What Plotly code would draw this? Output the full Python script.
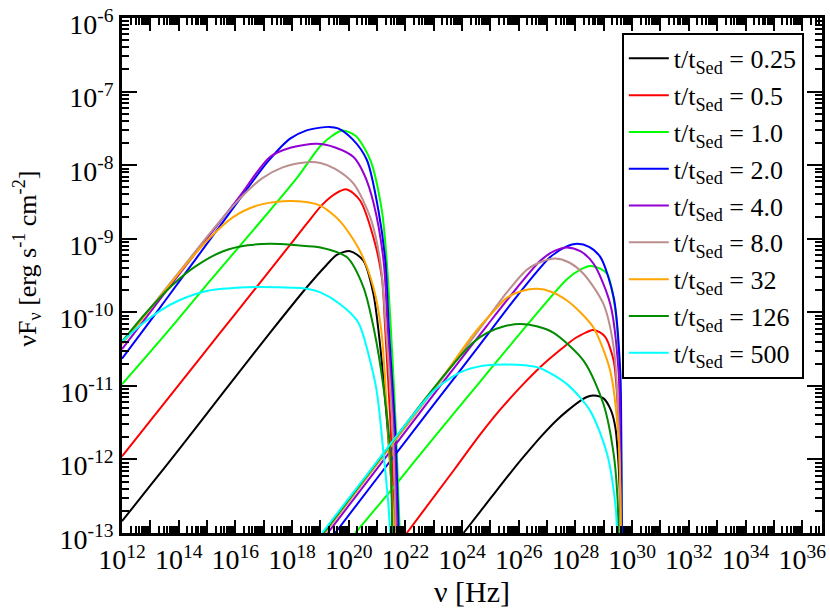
import plotly.graph_objects as go

# ---------------- data (log10 values) ----------------
labels = ["0.25", "0.5", "1.0", "2.0", "4.0", "8.0", "32", "126", "500"]
colors = ["#000000", "#ff0000", "#00ff00", "#0000ff", "#9400d3",
          "#bc8f8f", "#ffa500", "#008b00", "#00ffff"]

# synchrotron bump: log10(nu / Hz) and log10(nu F_nu)
sync_nu_025 = [12.0, 13.03, 14.06, 15.09, 16.12, 17.22, 18.52, 19.21, 19.58, 20.05, 20.52, 20.87, 21.05, 21.29, 21.50, 21.57]
sync_f_025 = [-12.84, -12.34, -11.84, -11.33, -10.82, -10.28, -9.66, -9.36, -9.22, -9.17, -9.30, -9.75, -10.25, -11.20, -12.30, -13.0]
sync_nu_05 = [12.0, 13.03, 14.06, 15.46, 16.64, 17.67, 18.49, 19.06, 19.52, 19.93, 20.40, 20.87, 21.17, 21.29, 21.47, 21.64]
sync_f_05 = [-11.96, -11.46, -10.96, -10.28, -9.71, -9.21, -8.81, -8.54, -8.39, -8.33, -8.48, -8.98, -9.53, -10.25, -11.48, -13.0]
sync_nu_1 = [12.0, 13.64, 15.09, 16.64, 18.18, 19.0, 19.42, 19.78, 20.24, 20.76, 21.17, 21.34, 21.49, 21.67, 21.80]
sync_f_1 = [-10.98, -10.25, -9.58, -8.88, -8.17, -7.74, -7.60, -7.53, -7.60, -7.93, -8.62, -9.30, -10.25, -11.62, -13.0]
sync_nu_2 = [12.0, 13.03, 14.06, 15.09, 16.12, 17.15, 17.93, 18.49, 19.0, 19.31, 19.62, 20.14, 20.64, 21.05, 21.29, 21.42, 21.64, 21.76]
sync_f_2 = [-10.63, -10.10, -9.56, -9.02, -8.48, -7.95, -7.64, -7.53, -7.49, -7.48, -7.50, -7.65, -7.93, -8.62, -9.30, -10.25, -11.62, -13.0]
sync_nu_4 = [12.0, 13.03, 14.06, 15.09, 16.12, 17.22, 17.97, 18.87, 19.52, 20.17, 20.55, 20.88, 21.23, 21.38, 21.59, 21.71]
sync_f_4 = [-10.50, -9.98, -9.46, -8.95, -8.44, -7.89, -7.76, -7.71, -7.76, -7.89, -8.13, -8.52, -9.30, -10.25, -11.62, -13.0]
sync_nu_8 = [12.0, 13.03, 14.06, 15.09, 16.12, 16.94, 17.67, 18.52, 19.0, 19.52, 20.17, 20.76, 21.11, 21.32, 21.55, 21.66]
sync_f_8 = [-10.43, -9.93, -9.43, -8.93, -8.47, -8.18, -8.03, -7.96, -7.97, -8.05, -8.25, -8.71, -9.30, -10.25, -11.62, -13.0]
sync_nu_32 = [12.0, 13.23, 14.37, 15.09, 15.91, 16.76, 17.67, 18.49, 19.0, 19.69, 20.40, 20.87, 21.15, 21.39, 21.61]
sync_f_32 = [-10.43, -9.84, -9.30, -8.99, -8.71, -8.55, -8.49, -8.50, -8.55, -8.76, -9.17, -9.66, -10.25, -11.62, -13.0]
sync_nu_126 = [12.0, 12.82, 13.81, 14.58, 15.57, 16.43, 17.22, 18.18, 19.0, 19.93, 20.52, 20.90, 21.23, 21.47, 21.53]
sync_f_126 = [-10.40, -10.02, -9.62, -9.38, -9.17, -9.09, -9.07, -9.09, -9.12, -9.25, -9.66, -10.25, -11.03, -11.93, -13.0]
sync_nu_500 = [12.0, 12.64, 13.34, 14.06, 14.99, 16.40, 17.46, 18.52, 19.0, 19.70, 20.29, 20.46, 20.97, 21.23, 21.40, 21.46]
sync_f_500 = [-10.40, -10.18, -9.98, -9.83, -9.71, -9.66, -9.66, -9.68, -9.73, -9.89, -10.11, -10.25, -11.03, -11.93, -12.62, -13.0]

# inverse-Compton bump
ic_nu_025 = [24.05, 24.98, 25.94, 26.40, 26.83, 27.30, 27.71, 28.22, 28.45, 28.64, 28.99, 29.25, 29.41, 29.51, 29.56, 29.61]
ic_f_025 = [-13.0, -12.54, -12.07, -11.86, -11.67, -11.48, -11.34, -11.19, -11.145, -11.13, -11.17, -11.33, -11.57, -12.0, -12.39, -13.0]
ic_nu_05 = [22.05, 23.74, 24.60, 25.35, 26.10, 26.80, 27.50, 28.00, 28.40, 28.60, 28.85, 29.06, 29.35, 29.52, 29.59, 29.62]
ic_f_05 = [-13.0, -12.13, -11.68, -11.32, -11.00, -10.73, -10.50, -10.35, -10.27, -10.24, -10.27, -10.34, -10.66, -11.48, -12.3, -13.0]
ic_nu_1 = [20.23, 21.79, 22.99, 24.77, 26.52, 27.70, 28.17, 28.52, 28.89, 29.12, 29.41, 29.58, 29.62, 29.64]
ic_f_1 = [-13.0, -12.28, -11.71, -10.88, -10.07, -9.55, -9.42, -9.37, -9.41, -9.48, -9.98, -11.03, -12.0, -13.0]
ic_nu_2 = [19.52, 21.27, 22.99, 24.57, 25.94, 27.11, 27.66, 28.06, 28.48, 28.88, 29.35, 29.58, 29.62, 29.64]
ic_f_2 = [-13.0, -12.12, -11.26, -10.47, -9.78, -9.25, -9.11, -9.07, -9.11, -9.25, -9.80, -10.80, -11.9, -13.0]
ic_nu_4 = [19.26, 21.27, 23.33, 24.88, 25.91, 26.76, 27.24, 27.70, 28.17, 28.64, 29.23, 29.52, 29.58, 29.61]
ic_f_4 = [-13.0, -11.99, -10.95, -10.18, -9.68, -9.30, -9.17, -9.12, -9.17, -9.34, -9.89, -10.80, -11.8, -13.0]
ic_nu_8 = [19.16, 21.27, 23.33, 24.67, 25.60, 26.29, 26.83, 27.29, 27.76, 28.29, 28.99, 29.35, 29.52, 29.60]
ic_f_8 = [-13.0, -11.93, -10.89, -10.20, -9.72, -9.42, -9.31, -9.27, -9.32, -9.48, -9.89, -10.48, -11.48, -13.0]
ic_nu_32 = [19.13, 21.27, 23.33, 24.40, 25.08, 25.59, 26.11, 26.65, 27.14, 27.70, 28.17, 28.64, 29.23, 29.52, 29.58, 29.60]
ic_f_32 = [-13.0, -11.92, -10.87, -10.30, -10.0, -9.80, -9.71, -9.68, -9.72, -9.84, -10.0, -10.21, -10.80, -11.71, -12.4, -13.0]
ic_nu_126 = [19.11, 21.27, 22.71, 23.70, 24.36, 24.88, 25.49, 26.05, 26.63, 27.23, 28.29, 28.99, 29.35, 29.48, 29.52]
ic_f_126 = [-13.0, -11.90, -11.17, -10.70, -10.42, -10.28, -10.19, -10.16, -10.19, -10.28, -10.66, -11.25, -11.93, -12.5, -13.0]
ic_nu_500 = [19.06, 20.64, 21.89, 22.99, 23.64, 24.17, 24.88, 25.52, 26.21, 26.76, 27.71, 28.52, 29.12, 29.41, 29.47]
ic_f_500 = [-13.0, -12.21, -11.58, -11.07, -10.88, -10.78, -10.72, -10.71, -10.72, -10.76, -10.98, -11.34, -11.93, -12.62, -13.0]

x_range_exp = [12.0, 36.699]     # 1e12 ... 5e36
y_range_exp = [-13.0, -6.0]
x_major_exp = list(range(12, 37))
y_major_exp = list(range(-13, -5))

x_title = "ν [Hz]"
y_title = "νF<sub>ν</sub> [erg s<sup>-1</sup> cm<sup>-2</sup>]"

# ---------------------------------------------------------------------------
sync_nu = [sync_nu_025, sync_nu_05, sync_nu_1, sync_nu_2, sync_nu_4, sync_nu_8, sync_nu_32, sync_nu_126, sync_nu_500]
sync_f = [sync_f_025, sync_f_05, sync_f_1, sync_f_2, sync_f_4, sync_f_8, sync_f_32, sync_f_126, sync_f_500]
ic_nu = [ic_nu_025, ic_nu_05, ic_nu_1, ic_nu_2, ic_nu_4, ic_nu_8, ic_nu_32, ic_nu_126, ic_nu_500]
ic_f = [ic_f_025, ic_f_05, ic_f_1, ic_f_2, ic_f_4, ic_f_8, ic_f_32, ic_f_126, ic_f_500]

FONT = "Liberation Serif"
fig = go.Figure()
for i, (lab, col, sn, sf, inu, inf) in enumerate(zip(labels, colors, sync_nu, sync_f, ic_nu, ic_f)):
    xs = [10 ** v for v in sn] + [None] + [10 ** v for v in inu]
    ys = [10 ** v for v in sf] + [None] + [10 ** v for v in inf]
    fig.add_trace(go.Scatter(
        x=xs, y=ys, mode="lines", connectgaps=False,
        line=dict(color=col, width=2, shape="spline", smoothing=0.8),
        name="t/t<sub>Sed</sub> = " + lab, legendgroup="g%d" % i,
    ))

x_tickvals = [10.0 ** e for e in x_major_exp]
x_ticktext = ["10<sup>%d</sup>" % e if e % 2 == 0 else "" for e in x_major_exp]
x_minor = [m * 10.0 ** e for e in x_major_exp for m in range(2, 10)]
y_tickvals = [10.0 ** e for e in y_major_exp]
y_ticktext = ["10<sup>%d</sup>" % e for e in y_major_exp]
y_minor = [m * 10.0 ** e for e in y_major_exp[:-1] for m in range(2, 10)]

eps = 1e-4
axis_common = dict(
    showline=True, linecolor="black", linewidth=2.5, mirror="allticks",
    ticks="inside", tickcolor="black", tickwidth=2, showgrid=False, zeroline=False,
    tickmode="array", tickfont=dict(family=FONT, size=28, color="black"),
    ticklabeloverflow="allow", automargin=False,
)

fig.update_layout(
    width=830, height=610,
    margin=dict(l=122, r=8, t=18, b=77, autoexpand=False),
    paper_bgcolor="white", plot_bgcolor="white",
    font=dict(family=FONT, color="black"),
    showlegend=True,
    legend=dict(
        x=0.714, y=0.971, xanchor="left", yanchor="top",
        bgcolor="white", bordercolor="black", borderwidth=2,
        font=dict(family=FONT, size=26, color="black"),
        itemwidth=40, tracegroupgap=0,
    ),
    xaxis=dict(
        type="log", range=[x_range_exp[0] - eps, x_range_exp[1]],
        tickvals=x_tickvals, ticktext=x_ticktext, ticklen=13,
        minor=dict(tickmode="array", tickvals=x_minor, ticks="inside", ticklen=7,
                   tickwidth=1.5, tickcolor="black", showgrid=False),
        title=dict(text=x_title, font=dict(family=FONT, size=30, color="black"), standoff=0),
        **axis_common,
    ),
    yaxis=dict(
        type="log", range=[y_range_exp[0] - eps, y_range_exp[1] + eps],
        tickvals=y_tickvals, ticktext=y_ticktext, ticklen=15, ticklabelshift=6,
        minor=dict(tickmode="array", tickvals=y_minor, ticks="inside", ticklen=7,
                   tickwidth=1.5, tickcolor="black", showgrid=False),
        **axis_common,
    ),
    annotations=[dict(
        text=y_title, textangle=-90, xref="paper", yref="paper",
        x=-0.136, y=0.532, xanchor="center", yanchor="middle", showarrow=False,
        font=dict(family=FONT, size=26, color="black"),
    )],
)

fig.write_html("out.html", config={"displayModeBar": False},
               post_script="document.body.style.margin='0px';")
